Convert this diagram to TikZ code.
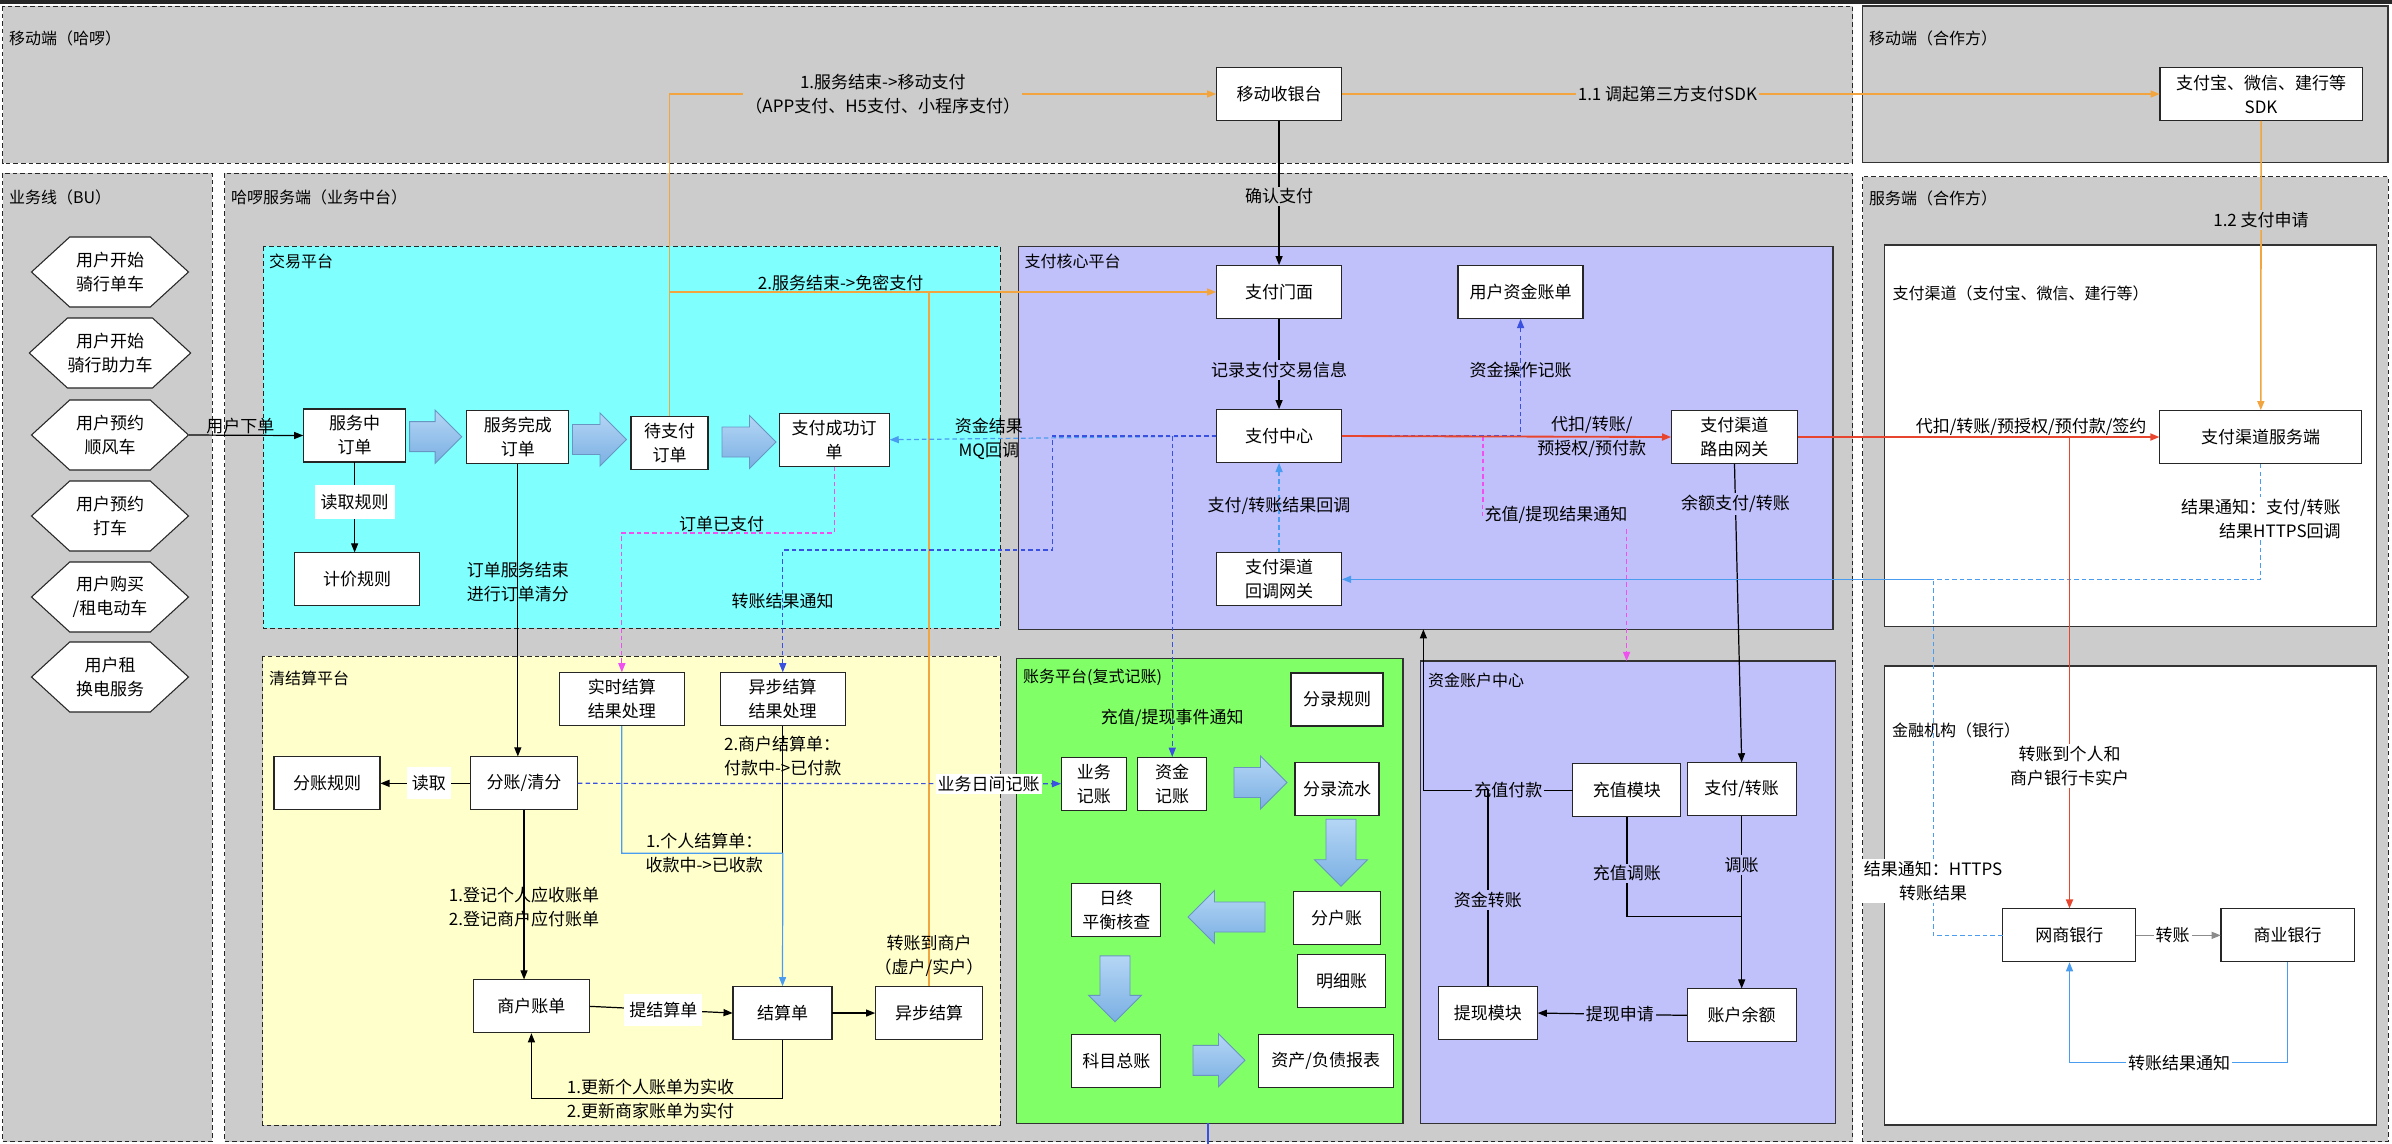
\documentclass[tikz,border=0pt]{standalone}
\usepackage{fontspec}
\setmainfont{Noto Sans CJK SC}
\usepackage{tikz}
\usetikzlibrary{arrows.meta, positioning, shapes.symbols, calc}
\definecolor{RegionGray}{HTML}{CCCCCC}
\definecolor{TradeCyan}{HTML}{80FFFF}
\definecolor{CoreLavender}{HTML}{C0C0FA}
\definecolor{BookGreen}{HTML}{80FF66}
\definecolor{ClearYellow}{HTML}{FFFFCC}
\definecolor{PayOrange}{HTML}{F2A53F}
\definecolor{PayRed}{HTML}{E8452E}
\definecolor{NoteBlue}{HTML}{3A50E0}
\definecolor{SkyBlue}{HTML}{4A9CF0}
\definecolor{NoticePink}{HTML}{F050F0}
\definecolor{ArrowHi}{HTML}{B5D6F5}
\definecolor{ArrowLo}{HTML}{7AAFE3}

\begin{document}
\begin{tikzpicture}[
            x=1pt, y=-1pt, scale=0.6555, transform shape,
            font=\fontsize{17pt}{24pt}\selectfont,
            >={Triangle[length=6pt,width=4.6pt]},
            line/.style={draw=black, line width=0.8pt, ->},
            orgline/.style={draw=PayOrange, line width=1pt},
            redline/.style={draw=PayRed, line width=1.2pt},
            bluedash/.style={draw=NoteBlue, line width=0.8pt, dash pattern=on 3pt off 2pt},
            lbluedash/.style={draw=SkyBlue, line width=0.8pt, dash pattern=on 3pt off 2pt},
            lblueline/.style={draw=SkyBlue, line width=0.8pt},
            magdash/.style={draw=NoticePink, line width=0.8pt, dash pattern=on 3pt off 2pt},
            grayline/.style={draw=black!45, line width=0.8pt},
            region/.style={draw=black!85, line width=0.6pt, dash pattern=on 3pt off 2pt},
            panel/.style={draw=black!80, line width=0.8pt},
            title/.style={anchor=west, inner sep=0pt, font=\fontsize{16pt}{20pt}\selectfont},
            box/.style={
                rectangle, draw=black!85, fill=white, line width=0.7pt,
                minimum width=125pt, minimum height=53pt,
                inner sep=3pt, align=center
            },
            hexa/.style={
                signal, signal to=east and west, signal pointer angle=85,
                draw=black!85, fill=white, line width=0.7pt,
                minimum width=157pt, minimum height=70pt,
                inner sep=0pt, align=center
            },
            bigarrow/.pic={
                \path[draw=ArrowLo!85!black, line width=0.6pt, top color=ArrowHi, bottom color=ArrowLo]
                    (-#1/2,-15) -- (#1/2-26.5,-15) -- (#1/2-26.5,-26.5) -- (#1/2,0)
                    -- (#1/2-26.5,26.5) -- (#1/2-26.5,15) -- (-#1/2,15) -- cycle;
            },
            note/.style={inner sep=1pt, align=center},
            cover/.style={fill=#1, inner sep=2pt, align=center}
        ]
        \useasboundingbox (0,0) rectangle (2392,1144);
        \fill[white] (0,0) rectangle (2392,1144);
        \fill[black!85] (0,0) rectangle (2392,4);

        % --- Swim lanes ---
        \draw[region, fill=RegionGray] (2.5,6) rectangle (1852.6,163);
        \draw[panel, fill=RegionGray] (1862.8,6) rectangle (2388,162.7);
        \draw[region, fill=RegionGray] (2.5,173) rectangle (212,1141.7);
        \draw[region, fill=RegionGray] (224.5,173) rectangle (1852.6,1141.7);
        \draw[region, fill=RegionGray] (1862.8,176.7) rectangle (2388,1141.7);

        % --- Platforms ---
        \draw[region, fill=TradeCyan] (263,246) rectangle (1000,628);
        \draw[region, fill=ClearYellow] (262.8,656) rectangle (1000,1125);
        \draw[panel, fill=CoreLavender] (1018.4,246.7) rectangle (1833,629.3);
        \draw[panel, fill=BookGreen] (1016.8,658.3) rectangle (1403,1123.3);
        \draw[panel, fill=CoreLavender] (1420.7,661) rectangle (1835.7,1123.3);
        \draw[panel, fill=white] (1884.7,245) rectangle (2376.5,626.7);
        \draw[panel, fill=white] (1884.7,666) rectangle (2376.5,1125);

        \node[title] (tmobhello) at (9,38) {移动端（哈啰）};
        \node[title] (tmobpartner) at (1869,38) {移动端（合作方）};
        \node[title] (tbu) at (9,197) {业务线（BU）};
        \node[title] (tsrvhello) at (231,197) {哈啰服务端（业务中台）};
        \node[title] (tsrvpartner) at (1869,198) {服务端（合作方）};
        \node[title] (ttrade) at (269,261) {交易平台};
        \node[title] (tcore) at (1024.5,261.7) {支付核心平台};
        \node[title] (tchannel) at (1892.3,293.3) {支付渠道（支付宝、微信、建行等）};
        \node[title] (tclear) at (269,678.3) {清结算平台};
        \node[title] (tbook) at (1023,677.7) {账务平台(复式记账)};
        \node[title] (tfund) at (1428,680) {资金账户中心};
        \node[title] (tbank) at (1892,730) {金融机构（银行）};

        % --- Business lines ---
        \node[hexa] (hex1) at (110,272) {用户开始\\骑行单车};
        \node[hexa] (hex2) at (110,353) {用户开始\\骑行助力车};
        \node[hexa] (hex3) at (110,435) {用户预约\\顺风车};
        \node[hexa] (hex4) at (110,516) {用户预约\\打车};
        \node[hexa] (hex5) at (110,597) {用户购买\\/租电动车};
        \node[hexa] (hex6) at (110,677) {用户租\\换电服务};

        % --- Mobile / payment core ---
        \node[box] (cashier) at (1279,94) {移动收银台};
        \node[box, minimum width=202pt] (sdk) at (2261,94) {支付宝、微信、建行等\\SDK};
        \node[box] (facade) at (1279,292) {支付门面};
        \node[box] (userbill) at (1520.5,292) {用户资金账单};
        \node[box] (paycenter) at (1279,436) {支付中心};
        \node[box] (cbgate) at (1279,579.3) {支付渠道\\回调网关};
        \node[box, minimum width=126pt] (router) at (1734.4,437) {支付渠道\\路由网关};
        \node[box, minimum width=202pt] (chsrv) at (2260.7,437) {支付渠道服务端};
        \node[box, minimum width=133pt] (mybank) at (2069.4,935.3) {网商银行};
        \node[box, minimum width=133pt] (combank) at (2287.5,935.3) {商业银行};

        % --- Trading ---
        \node[box, minimum width=102pt] (inservice) at (354.6,435.5) {服务中\\订单};
        \node[box, minimum width=102pt] (svcdone) at (517.8,437) {服务完成\\订单};
        \node[box, minimum width=77pt] (topay) at (669.5,443.3) {待支付\\订单};
        \node[box, minimum width=110pt] (paid) at (834.2,439.7) {支付成功订\\单};
        \node[box] (pricing) at (357,579.3) {计价规则};
        \pic (ar1) at (435.7,436.7) {bigarrow=52};
        \pic (ar2) at (599.5,439.5) {bigarrow=54};
        \pic (ar3) at (749,442) {bigarrow=54};

        % --- Clearing ---
        \node[box] (rtsettle) at (621.8,699.2) {实时结算\\结果处理};
        \node[box] (asyncres) at (782.7,699.2) {异步结算\\结果处理};
        \node[box, minimum width=106pt] (splitrule) at (327,783.3) {分账规则};
        \node[box, minimum width=107pt] (split) at (524,783.3) {分账/清分};
        \node[box, minimum width=116pt] (merbill) at (531.4,1006.3) {商户账单};
        \node[box, minimum width=99pt] (stmt) at (782.5,1013) {结算单};
        \node[box, minimum width=107pt] (asyncstl) at (929,1013) {异步结算};

        % --- Accounting ---
        \node[box, minimum width=92pt] (entryrule) at (1337,699.5) {分录规则};
        \node[box, minimum width=65pt] (bizbook) at (1093.8,783.7) {业务\\记账};
        \node[box, minimum width=69pt] (fundbook) at (1172.2,783.7) {资金\\记账};
        \node[box, minimum width=84pt] (journal) at (1337,788.8) {分录流水};
        \node[box, minimum width=87pt] (subledger) at (1336.7,918) {分户账};
        \node[box, minimum width=89pt] (eodcheck) at (1116.3,910.3) {日终\\平衡核查};
        \node[box, minimum width=88pt] (detail) at (1341.5,981.3) {明细账};
        \node[box, minimum width=89pt] (ledger) at (1116.3,1060.7) {科目总账};
        \node[box, minimum width=135pt] (report) at (1325.7,1060.7) {资产/负债报表};
        \pic (ar4) at (1260.5,782.5) {bigarrow=53};
        \pic[rotate=-90] (ar5) at (1341,852.7) {bigarrow=67};
        \pic[rotate=180] (ar6) at (1226.5,917) {bigarrow=77};
        \pic[rotate=-90] (ar7) at (1115,988.8) {bigarrow=66};
        \pic (ar8) at (1219,1060.3) {bigarrow=52};

        % --- Fund accounts ---
        \node[box, minimum width=108pt] (topupmod) at (1626.8,790.3) {充值模块};
        \node[box, minimum width=109pt] (paytrans) at (1741.6,789.2) {支付/转账};
        \node[box, minimum width=109pt] (balance) at (1741.6,1015.3) {账户余额};
        \node[box, minimum width=99pt] (withdraw) at (1487.8,1013) {提现模块};

        \coordinate (stlj) at (782.7,853.3);
        \coordinate (mqx) at (1052.6,550);
        \coordinate (cbj) at (1933,579.3);
        \coordinate (mgs) at (1483,436);
        \coordinate (fundtop) at (1626.5,661);
        \coordinate (corebot) at (1423.3,629.3);
        \coordinate (adjj) at (1741.6,916.7);
        \coordinate (bkout) at (1208,1123.3);
        \coordinate (bkedge) at (1208,1144);

        % --- Orange: pay after service ---
        \draw[orgline, ->] (topay.north) |- node[pos=0.695, cover=RegionGray] {1.服务结束->移动支付\\（APP支付、H5支付、小程序支付）} (cashier.west);
        \draw[orgline, ->] (topay.north |- facade.west) -- node[pos=0.313, above, note] {2.服务结束->免密支付} (facade.west);
        \draw[orgline] (asyncstl.north) -- node[pos=0.044, note] {转账到商户\\（虚户/实户）} (asyncstl.north |- facade.west);
        \draw[orgline, ->] (cashier.east) -- node[pos=0.398, cover=RegionGray] {1.1 调起第三方支付SDK} (sdk.west);
        \draw[orgline, ->] (sdk.south) -- node[pos=0.342, cover=RegionGray] {1.2 支付申请} (chsrv.north);

        % --- Black flows ---
        \draw[line] (cashier.south) -- node[pos=0.524, cover=RegionGray] {确认支付} (facade.north);
        \draw[line] (facade.south) -- node[pos=0.568, cover=CoreLavender] {记录支付交易信息} (paycenter.north);
        \draw[line] (hex3.east) -- node[pos=0.45, above, note] {用户下单} (inservice.west);
        \draw[line] (inservice.south) -- node[pos=0.44, cover=white, inner xsep=6pt, inner ysep=9pt] {读取规则} (inservice.south |- pricing.north);
        \draw[line] (svcdone.south) -- node[pos=0.405, note] {订单服务结束\\进行订单清分} (svcdone.south |- split.north);
        \draw[line] (split.west) -- node[pos=0.46, cover=white, inner xsep=5pt, inner ysep=8pt] {读取} (splitrule.east);
        \draw[line] (split.south) -- node[pos=0.57, note] {1.登记个人应收账单\\2.登记商户应付账单} (split.south |- merbill.north);
        \draw[line] (merbill.east) -- node[pos=0.515, cover=white, inner xsep=5pt, inner ysep=8pt] {提结算单} (stmt.west);
        \draw[line] (stmt.east) -- (asyncstl.west);
        \draw[line] (stmt.south) |- node[pos=0.763, note] {1.更新个人账单为实收\\2.更新商家账单为实付} ($(merbill.south)+(0,65.6)$) -- (merbill.south);
        \draw[line, -] (asyncres.south) -- node[pos=0.237, note, align=left] {2.商户结算单：\\付款中->已付款} (stlj);
        \draw[lblueline, ->] (rtsettle.south) |- node[pos=0.756, note] {1.个人结算单：\\收款中->已收款} (stlj) -- (stmt.north);
        \draw[line] (router.south) -- node[pos=0.134, cover=CoreLavender] {余额支付/转账} (paytrans.north);

        % --- Notifications ---
        \draw[lbluedash, ->] (paycenter.west) -- node[pos=0.696, note] {资金结果\\MQ回调} (paid.east);
        \draw[bluedash, ->] (paycenter.west) -| (mqx) -| node[pos=0.71, note] {转账结果通知} (asyncres.north);
        \draw[bluedash, ->] (fundbook.north |- paycenter.west) -- node[pos=0.879, note] {充值/提现事件通知} (fundbook.north);
        \draw[bluedash, ->] (paycenter.east) -| node[pos=0.78, note] {资金操作记账} (userbill.south);
        \draw[bluedash, ->] (split.east) -- node[pos=0.85, cover=white] {业务日间记账} (bizbook.west);
        \draw[draw=NoteBlue, line width=0.8pt] (bkout) -- (bkedge);
        \draw[magdash, ->] (paid.south) |- node[pos=0.765, above, note] {订单已支付} ($(rtsettle.north)+(0,-139.4)$) -- (rtsettle.north);
        \draw[magdash, ->] (mgs) |- node[pos=0.754, cover=CoreLavender] {充值/提现结果通知} ($(fundtop)+(0,-146)$) -- (fundtop);
        \draw[lbluedash, ->] (cbgate.north) -- node[pos=0.517, note] {支付/转账结果回调} (paycenter.south);
        \draw[lblueline, ->] (cbj) -- (cbgate.east);
        \draw[lbluedash] (chsrv.south) |- node[pos=0.237, cover=white, align=right] {结果通知：支付/转账\\结果HTTPS回调} (cbj);
        \draw[lbluedash] (mybank.west) -| node[pos=0.576, cover=white] {结果通知：HTTPS\\转账结果} (cbj);
        \draw[lblueline, ->] (combank.south) -- ++(0,100.4) -| node[pos=0.249, cover=white] {转账结果通知} (mybank.south);
        \draw[grayline, ->] (mybank.east) -- node[pos=0.43, cover=white] {转账} (combank.west);

        % --- Red: channel requests ---
        \draw[redline, ->] (paycenter.east) -- node[pos=0.759, note] {代扣/转账/\\预授权/预付款} (router.west);
        \draw[redline, ->] (router.east) -- node[pos=0.645, above, note] {代扣/转账/预授权/预付款/签约} (chsrv.west);
        \draw[redline, ->] (mybank.north |- router.east) -- node[pos=0.697, cover=white] {转账到个人和\\商户银行卡实户} (mybank.north);

        % --- Fund account moves ---
        \draw[line] (topupmod.west) -| node[pos=0.215, cover=CoreLavender] {充值付款} (corebot);
        \draw[line, -] (withdraw.north) -- node[pos=0.44, cover=CoreLavender] {资金转账} (withdraw.north |- topupmod.west);
        \draw[line, -] (topupmod.south) |- node[pos=0.283, cover=CoreLavender] {充值调账} (adjj);
        \draw[line] (paytrans.south) -- node[pos=0.284, cover=CoreLavender] {调账} (balance.north);
        \draw[line] (balance.west) -- node[pos=0.449, cover=CoreLavender] {提现申请} (withdraw.east);

        \end{tikzpicture}
\end{document}
